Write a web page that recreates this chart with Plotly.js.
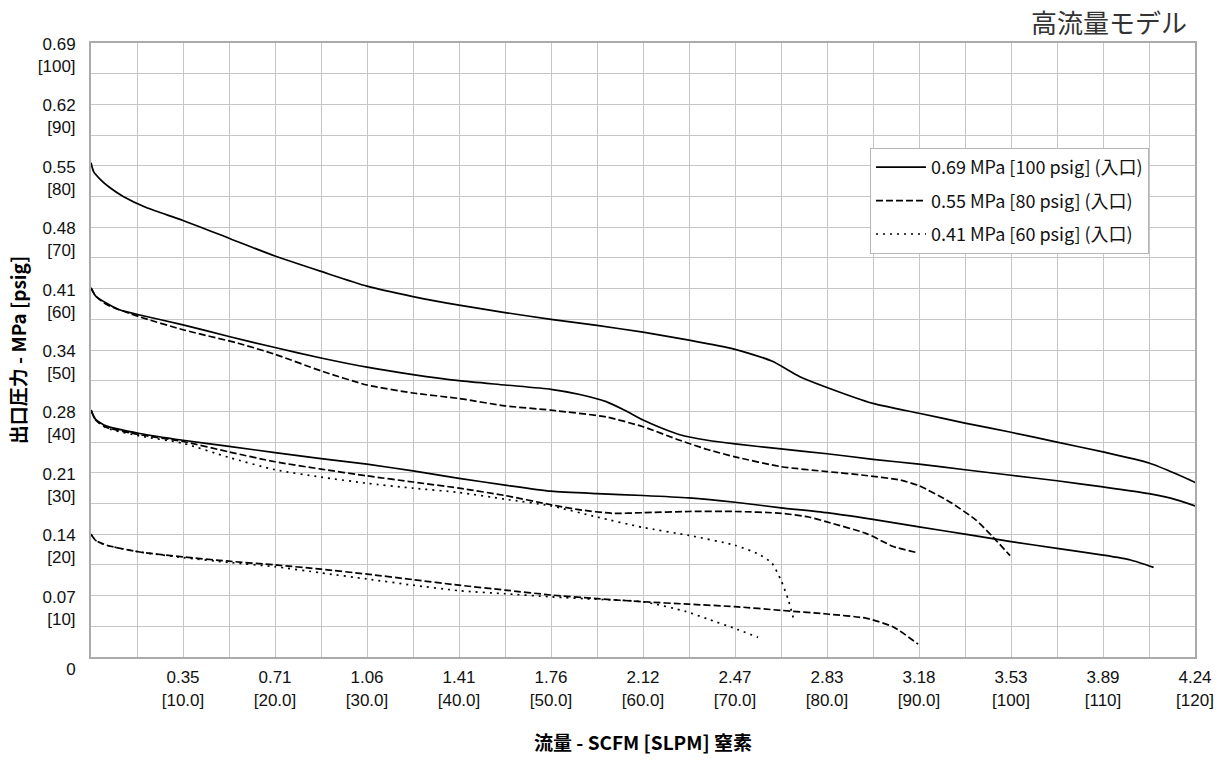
<!DOCTYPE html>
<html>
<head>
<meta charset="utf-8">
<script src="https://cdn.plot.ly/plotly-3.0.1.min.js"></script>
<style>html,body{margin:0;padding:0;background:#fff;}#chart{width:1226px;height:761px;}</style>
</head>
<body>
<div id="chart"></div>
<script>
// ---- Tick labels ----
const xTickSlpmVals = [10,20,30,40,50,60,70,80,90,100,110,120];
const xTickScfm = ["0.35","0.71","1.06","1.41","1.76","2.12","2.47","2.83","3.18","3.53","3.89","4.24"];
const xTickSlpm = ["[10.0]","[20.0]","[30.0]","[40.0]","[50.0]","[60.0]","[70.0]","[80.0]","[90.0]","[100]","[110]","[120]"];
const yTickPsigVals = [0,10,20,30,40,50,60,70,80,90,100];
const yTickMpa = ["0","0.07","0.14","0.21","0.28","0.34","0.41","0.48","0.55","0.62","0.69"];
const yTickPsig = ["","[10]","[20]","[30]","[40]","[50]","[60]","[70]","[80]","[90]","[100]"];

// ---- Series names ----
const inletNames = ["0.69 MPa [100 psig] (入口)","0.55 MPa [80 psig] (入口)","0.41 MPa [60 psig] (入口)"];

// ---- Inlet 100 psig (solid) ----
const in100_set80_x = [0,0.3,1,2,3.5,6,10,15,20,25,30,35,40,45,50,55,60,65,70,74,77,80,85,90,95,100,105,110,115,118,120.2];
const in100_set80_y = [80.5,79.0,77.8,76.5,75.0,73.2,71.1,68.2,65.3,62.8,60.4,58.7,57.3,56.1,55.0,54.0,52.9,51.6,50.1,48.2,45.7,43.9,41.3,39.7,38.1,36.6,35.0,33.4,31.6,29.8,28.3];
const in100_set60_x = [0,0.5,1.7,3,5.3,10,15,20,25,30,35,40,45,50,53,56,58,60,62,64,67,70,75,80,85,90,95,100,105,110,115,118,120];
const in100_set60_y = [60.1,58.8,57.6,56.6,55.7,54.1,52.2,50.4,48.7,47.2,46.0,45.0,44.3,43.6,42.8,41.6,40.2,38.6,37.3,36.2,35.3,34.7,33.9,33.1,32.2,31.4,30.5,29.6,28.7,27.7,26.6,25.6,24.6];
const in100_set40_x = [0,0.5,1.7,5.3,10,15,20,25,30,35,40,45,50,55,60,65,70,75,80,85,90,95,100,105,110,113,115.5];
const in100_set40_y = [40.2,38.7,37.6,36.4,35.3,34.3,33.3,32.3,31.4,30.3,29.1,28.0,27.0,26.6,26.3,25.9,25.2,24.3,23.5,22.4,21.2,20.0,18.8,17.7,16.6,15.8,14.6];

// ---- Inlet 80 psig (dashed) ----
const in80_set60_x = [0,0.5,1.7,5.3,10,16,20,25,30,35,40,45,50,56,60,64,67,70,75,80,84,88,90,93.3,96.2,98,99.9];
const in80_set60_y = [60.1,58.8,57.4,55.4,53.3,51.1,49.3,46.6,44.3,43.0,42.1,40.9,40.2,39.1,37.5,35.3,33.8,32.6,31.0,30.2,29.6,28.8,27.9,25.3,22.3,19.6,16.5];
const in80_set40_x = [0,0.5,1.7,5.3,10,15,20,25,30,35,40,45,50,53,56.7,60,65,70,75,78,80,84.3,87.2,89.8];
const in80_set40_y = [40.2,38.6,37.4,36.2,35.1,33.4,31.8,30.6,29.5,28.5,27.5,26.3,24.8,24.0,23.4,23.5,23.7,23.7,23.4,22.8,22.0,20.1,18.0,17.0];
const in80_set20_x = [0,0.5,1.7,5.3,10,15,20,25,30,35,40,45,50,55,60,65,70,75,80,84.3,87.2,89.9];
const in80_set20_y = [20.0,19.0,18.2,17.1,16.3,15.6,15.0,14.3,13.5,12.6,11.7,10.9,10.1,9.5,9.0,8.6,8.2,7.6,7.0,6.3,4.9,2.1];

// ---- Inlet 60 psig (dotted) ----
const in60_set40_x = [0,0.5,1.7,5.3,10,15,20,25,30,35,40,45,50,55,60,65,70,72.5,74,75,75.8,76.4];
const in60_set40_y = [40.2,38.6,37.3,36.0,34.8,32.5,30.5,29.3,28.3,27.5,26.8,25.7,24.6,22.8,21.1,19.8,18.2,16.8,15.3,12.5,9.3,6.0];
const in60_set20_x = [0,0.5,1.7,5.3,10,15,20,25,30,35,40,45,50,55,60,64.7,67,69.9,72.5];
const in60_set20_y = [20.0,19.0,18.2,17.1,16.2,15.4,14.7,13.7,12.7,11.7,10.8,10.3,9.8,9.4,9.0,7.4,6.2,4.7,3.2];

const DASH = {solid:'solid', dash:'7px,3px', dot:'2px,5px'};
function tr(x, y, group, dash, show){
  return {
    type:'scatter', mode:'lines', x:x, y:y,
    name: inletNames[group], legendgroup:'g'+group, showlegend: show,
    line:{color:'#000', width:1.7, dash:dash, shape:'spline', smoothing:0.6},
    hoverinfo:'x+y'
  };
}
const data = [
  tr(in100_set80_x, in100_set80_y, 0, DASH.solid, true),
  tr(in100_set60_x, in100_set60_y, 0, DASH.solid, false),
  tr(in100_set40_x, in100_set40_y, 0, DASH.solid, false),
  tr(in80_set60_x, in80_set60_y, 1, DASH.dash, true),
  tr(in80_set40_x, in80_set40_y, 1, DASH.dash, false),
  tr(in80_set20_x, in80_set20_y, 1, DASH.dash, false),
  tr(in60_set40_x, in60_set40_y, 2, DASH.dot, true),
  tr(in60_set20_x, in60_set20_y, 2, DASH.dot, false)
];

// build tick arrays with gridlines every 5 units
const xVals = [], xText = [];
for (let v = 5; v <= 120; v += 5) {
  xVals.push(v);
  const i = xTickSlpmVals.indexOf(v);
  xText.push(i >= 0 ? xTickScfm[i] + '<br>' + xTickSlpm[i] : '');
}
const yVals = [], yText = [];
for (let v = 0; v <= 100; v += 5) {
  yVals.push(v);
  const i = yTickPsigVals.indexOf(v);
  yText.push(i >= 0 ? (yTickPsig[i] ? yTickMpa[i] + '<br>' + yTickPsig[i] : yTickMpa[i]) : '');
}

const tickFont = {family:'"Liberation Sans", Arial, sans-serif', size:17, color:'#111'};
const layout = {
  width:1226, height:761,
  margin:{l:91, r:31, t:43, b:104, pad:0},
  paper_bgcolor:'#fff', plot_bgcolor:'#fff',
  showlegend:true,
  title:{
    text:'高流量モデル', x:1187/1226, xref:'container', xanchor:'right',
    y:1-24/761, yref:'container', yanchor:'middle',
    font:{family:'"Noto Sans CJK JP", sans-serif', size:26, color:'#333'}
  },
  xaxis:{
    range:[0,120], tickmode:'array', tickvals:xVals, ticktext:xText,
    showgrid:true, gridcolor:'#c6c6c6', gridwidth:1, zeroline:false,
    showline:true, mirror:true, linecolor:'#ababab', linewidth:2,
    ticks:'', tickfont:tickFont, ticklabelstandoff:4,
    title:{text:'流量 - SCFM [SLPM] 窒素', standoff:28,
      font:{family:'"Noto Sans CJK JP", sans-serif', size:19, color:'#000', weight:'bold'}},
    automargin:false, fixedrange:true
  },
  yaxis:{
    range:[0,100], tickmode:'array', tickvals:yVals, ticktext:yText,
    showgrid:true, gridcolor:'#c6c6c6', gridwidth:1, zeroline:false,
    showline:true, mirror:true, linecolor:'#ababab', linewidth:2,
    ticks:'', tickfont:tickFont, ticklabelshift:12, ticklabelstandoff:10,
    title:{text:'出口圧力 - MPa [psig]', standoff:6,
      font:{family:'"Noto Sans CJK JP", sans-serif', size:19, color:'#000', weight:'bold'}},
    automargin:false, fixedrange:true
  },
  legend:{
    x:(870-91)/1104, y:(657-148)/614, xanchor:'left', yanchor:'top',
    bgcolor:'#fff', bordercolor:'#b5b5b5', borderwidth:1,
    font:{family:'"Noto Sans CJK JP", sans-serif', size:18, color:'#111'},
    itemwidth:50, tracegroupgap:7
  }
};
Plotly.newPlot('chart', data, layout, {displayModeBar:false, staticPlot:true});
</script>
</body>
</html>
